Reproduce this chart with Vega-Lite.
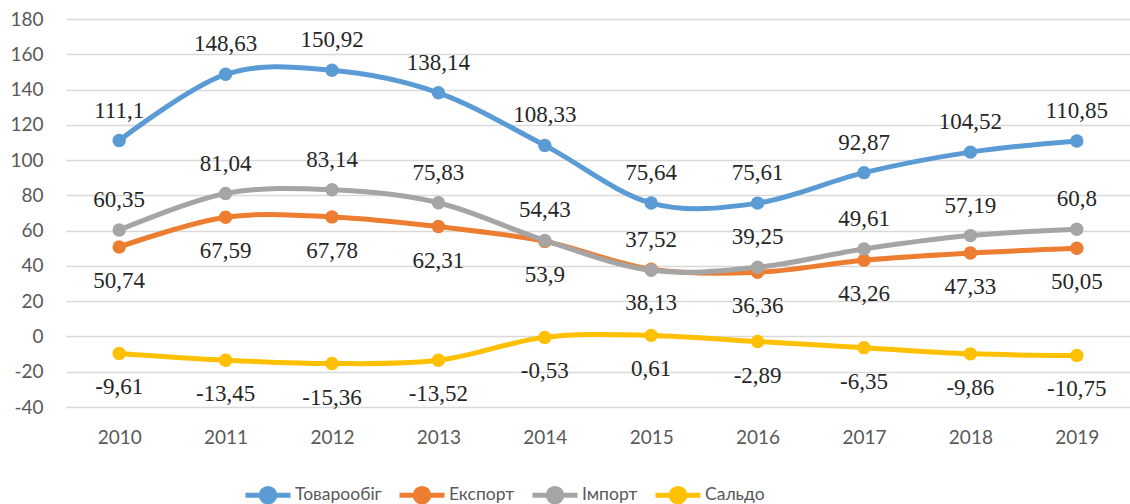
{
  "$schema": "https://vega.github.io/schema/vega-lite/v6.json",
  "width": 1064,
  "height": 388,
  "autosize": {"type": "none"},
  "padding": {"left": 66, "top": 19, "right": 0, "bottom": 97},
  "background": "white",
  "config": {
    "view": {"stroke": null},
    "locale": {"number": {"decimal": ",", "thousands": " ", "grouping": [3], "currency": ["", ""], "minus": "-"}}
  },
  "data": {
    "values": [
      {"year": "2010", "series": "Товарообіг", "value": 111.1},
      {"year": "2011", "series": "Товарообіг", "value": 148.63},
      {"year": "2012", "series": "Товарообіг", "value": 150.92},
      {"year": "2013", "series": "Товарообіг", "value": 138.14},
      {"year": "2014", "series": "Товарообіг", "value": 108.33},
      {"year": "2015", "series": "Товарообіг", "value": 75.64},
      {"year": "2016", "series": "Товарообіг", "value": 75.61},
      {"year": "2017", "series": "Товарообіг", "value": 92.87},
      {"year": "2018", "series": "Товарообіг", "value": 104.52},
      {"year": "2019", "series": "Товарообіг", "value": 110.85},
      {"year": "2010", "series": "Експорт", "value": 50.74},
      {"year": "2011", "series": "Експорт", "value": 67.59},
      {"year": "2012", "series": "Експорт", "value": 67.78},
      {"year": "2013", "series": "Експорт", "value": 62.31},
      {"year": "2014", "series": "Експорт", "value": 53.9},
      {"year": "2015", "series": "Експорт", "value": 38.13},
      {"year": "2016", "series": "Експорт", "value": 36.36},
      {"year": "2017", "series": "Експорт", "value": 43.26},
      {"year": "2018", "series": "Експорт", "value": 47.33},
      {"year": "2019", "series": "Експорт", "value": 50.05},
      {"year": "2010", "series": "Імпорт", "value": 60.35},
      {"year": "2011", "series": "Імпорт", "value": 81.04},
      {"year": "2012", "series": "Імпорт", "value": 83.14},
      {"year": "2013", "series": "Імпорт", "value": 75.83},
      {"year": "2014", "series": "Імпорт", "value": 54.43},
      {"year": "2015", "series": "Імпорт", "value": 37.52},
      {"year": "2016", "series": "Імпорт", "value": 39.25},
      {"year": "2017", "series": "Імпорт", "value": 49.61},
      {"year": "2018", "series": "Імпорт", "value": 57.19},
      {"year": "2019", "series": "Імпорт", "value": 60.8},
      {"year": "2010", "series": "Сальдо", "value": -9.61},
      {"year": "2011", "series": "Сальдо", "value": -13.45},
      {"year": "2012", "series": "Сальдо", "value": -15.36},
      {"year": "2013", "series": "Сальдо", "value": -13.52},
      {"year": "2014", "series": "Сальдо", "value": -0.53},
      {"year": "2015", "series": "Сальдо", "value": 0.61},
      {"year": "2016", "series": "Сальдо", "value": -2.89},
      {"year": "2017", "series": "Сальдо", "value": -6.35},
      {"year": "2018", "series": "Сальдо", "value": -9.86},
      {"year": "2019", "series": "Сальдо", "value": -10.75}
    ]
  },
  "encoding": {
    "x": {
      "field": "year", "type": "ordinal", "title": null,
      "scale": {"type": "point", "padding": 0.5},
      "axis": {"labelAngle": 0, "labelFont": "Lato", "labelFontSize": 19, "labelColor": "#595959", "domain": false, "ticks": false, "labelPadding": 21}
    },
    "y": {
      "field": "value", "type": "quantitative", "title": null,
      "scale": {"domain": [-40, 180], "nice": false},
      "axis": {"values": [-40, -20, 0, 20, 40, 60, 80, 100, 120, 140, 160, 180], "labelFont": "Lato", "labelFontSize": 19, "labelColor": "#595959", "domain": false, "ticks": false, "labelPadding": 23, "gridColor": "#D9D9D9", "gridWidth": 1.3, "format": "d"}
    }
  },
  "layer": [
    {
      "mark": {"type": "line", "interpolate": "cardinal", "tension": 0, "strokeWidth": 5, "point": {"size": 180, "filled": true, "opacity": 1}},
      "encoding": {
        "color": {
          "field": "series", "type": "nominal",
          "scale": {"domain": ["Товарообіг", "Експорт", "Імпорт", "Сальдо"], "range": ["#5B9BD5", "#ED7D31", "#A5A5A5", "#FFC000"]},
          "legend": {
            "title": null, "orient": "none", "direction": "horizontal", "legendX": 177, "legendY": 451,
            "symbolType": "M-1,0L-0.3,0M0.3,0L1,0M-0.3,0A0.3,0.3 0 1,0 0.3,0A0.3,0.3 0 1,0 -0.3,0Z",
            "symbolSize": 2025, "symbolStrokeWidth": 5, "symbolOpacity": 1,
            "labelFont": "Lato", "labelFontSize": 17.5, "labelColor": "#595959", "labelOffset": 2,
            "columnPadding": 7
          }
        }
      }
    },
    {
      "transform": [{"filter": "datum.series === 'Товарообіг' || datum.series === 'Імпорт'"}],
      "mark": {"type": "text", "font": "Liberation Serif", "fontSize": 23, "color": "#262626", "dy": -30, "baseline": "middle"},
      "encoding": {"text": {"field": "value", "type": "quantitative", "format": ".2~f"}}
    },
    {
      "transform": [{"filter": "datum.series === 'Експорт' || datum.series === 'Сальдо'"}],
      "mark": {"type": "text", "font": "Liberation Serif", "fontSize": 23, "color": "#262626", "dy": 34, "baseline": "middle"},
      "encoding": {"text": {"field": "value", "type": "quantitative", "format": ".2~f"}}
    }
  ]
}
